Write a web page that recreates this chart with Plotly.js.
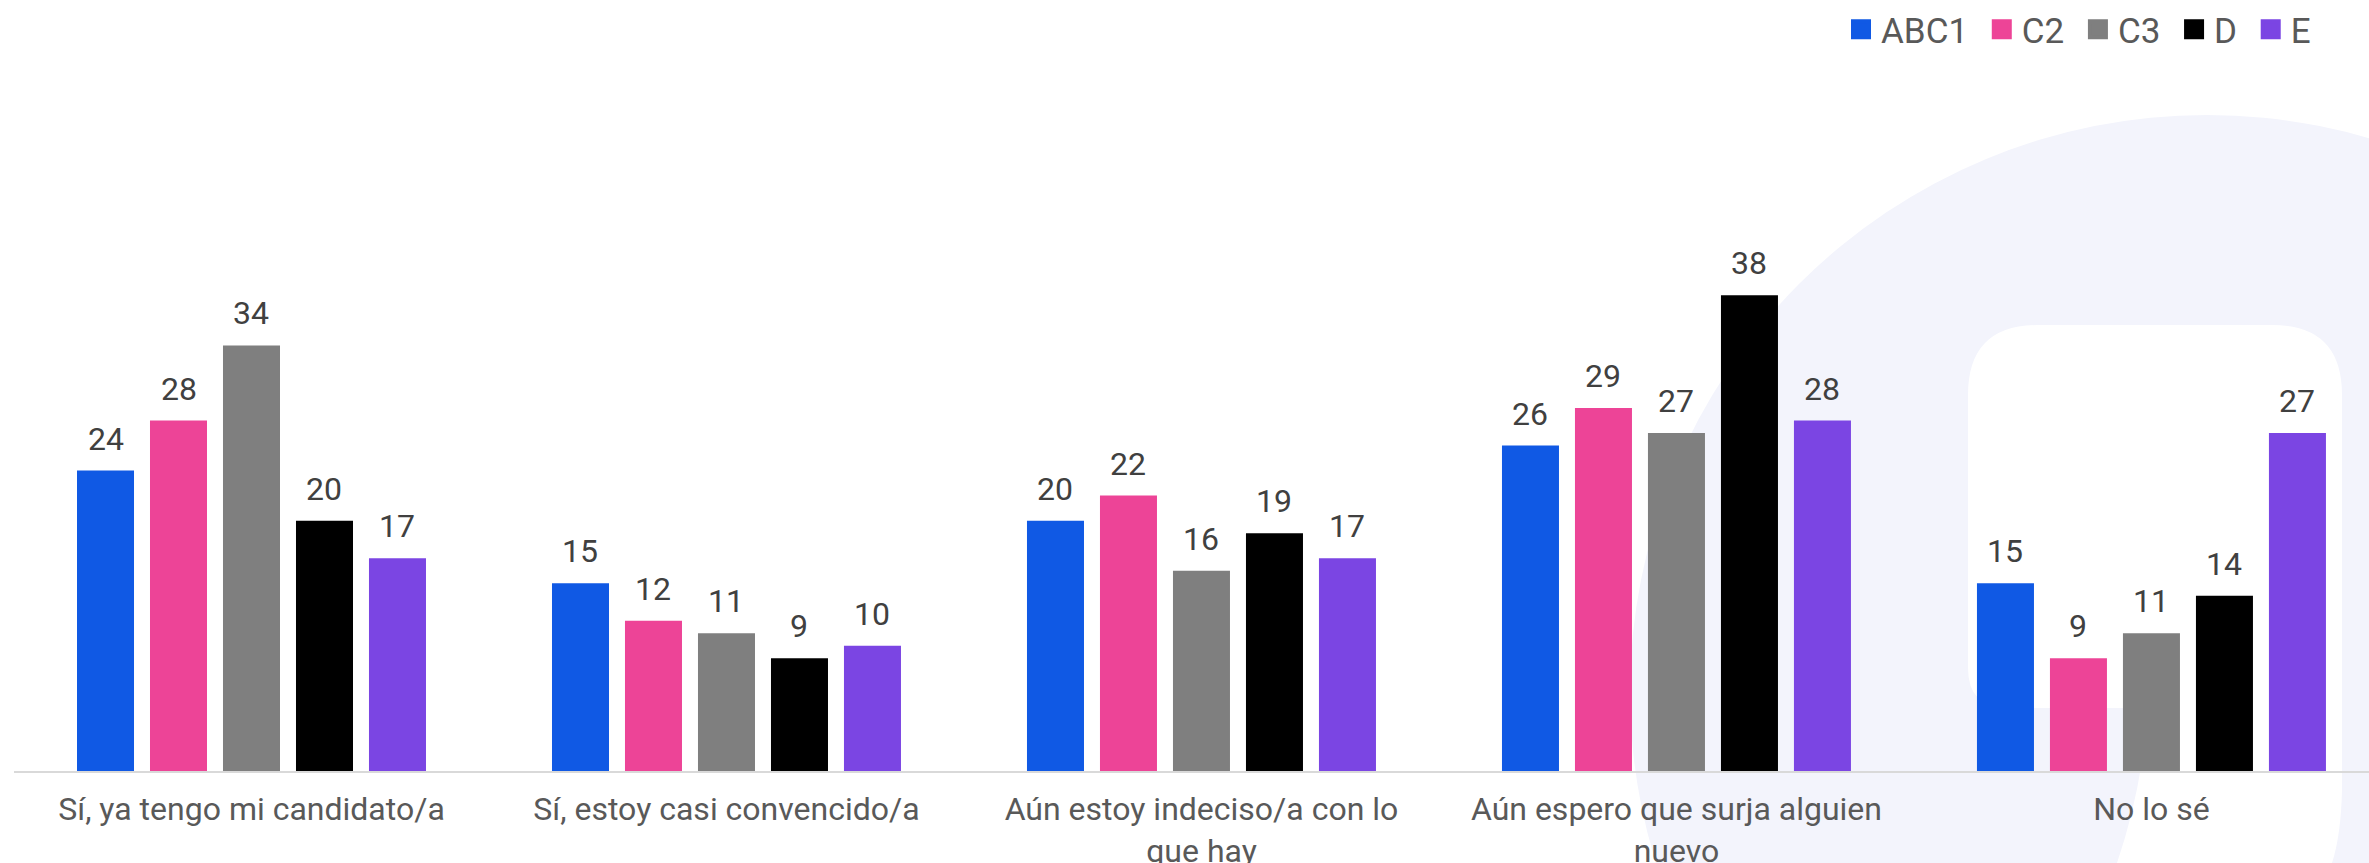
<!DOCTYPE html>
<html>
<head>
<meta charset="utf-8">
<script src="https://cdn.plot.ly/plotly-3.0.1.min.js"></script>
<style>html,body{margin:0;padding:0;background:#fff;}#chart{width:2369px;height:863px;}</style>
</head>
<body>
<div id="chart"></div>
<script>
// ---- data ----
const categories = [
  "Sí, ya tengo mi candidato/a",
  "Sí, estoy casi convencido/a",
  "Aún estoy indeciso/a con lo<br>que hay",
  "Aún espero que surja alguien<br>nuevo",
  "No lo sé"
];
const seriesNames = ["ABC1", "C2", "C3", "D", "E"];
const abc1 = [24, 15, 20, 26, 15];
const c2   = [28, 12, 22, 29, 9];
const c3   = [34, 11, 16, 27, 11];
const d    = [20, 9, 19, 38, 14];
const e    = [17, 10, 17, 28, 27];
const seriesValues = [abc1, c2, c3, d, e];
const seriesColors = ["#1059E4", "#ED4497", "#7F7F7F", "#000000", "#7B45E3"];

// ---- layout constants ----
const W = 2369, H = 863;
const M = {l: 14, r: 0, t: 70, b: 92};
const bargap = 0.2316, bargroupgap = 0.219;
const nSeries = seriesNames.length;
const slot = (1 - bargap) / nSeries;

const FONT = "Roboto, 'Noto Sans', sans-serif";

const traces = [];
seriesValues.forEach((vals, i) => {
  traces.push({
    type: "bar", name: seriesNames[i], x: categories, y: vals,
    marker: {color: seriesColors[i]}, showlegend: false, legendgroup: seriesNames[i],
    hoverinfo: "x+y+name"
  });
});
// legend entries (bigger squares than bar legend glyphs)
seriesNames.forEach((n, i) => {
  traces.push({
    type: "scatter", mode: "markers", name: n + "\u00A0", x: [null], y: [null],
    legendgroup: n, showlegend: true,
    marker: {symbol: "square", size: 16, color: seriesColors[i], line: {color: seriesColors[i], width: 4}}
  });
});

// value labels above bars
const annotations = [];
seriesValues.forEach((vals, i) => {
  vals.forEach((v, j) => {
    annotations.push({
      x: j + (i - (nSeries - 1) / 2) * slot, y: v, xref: "x", yref: "y",
      text: String(v), showarrow: false, yshift: 32,
      font: {family: FONT, size: 32, color: "#404040"}
    });
  });
});

// background decoration (pixel -> paper helpers)
const pw = W - M.l - M.r, ph = H - M.t - M.b;
const px = v => (v - M.l) / pw;
const py = v => (H - M.b - v) / ph;
const P = (x, y) => px(x).toFixed(5) + "," + py(y).toFixed(5);
const r = 70, r2 = 40;
const whitePath =
  "M" + P(1968 + r, 325) + " L" + P(2342 - r, 325) + " Q" + P(2342, 325) + " " + P(2342, 325 + r) +
  " L" + P(2342, 790) + " Q" + P(2341, 835) + " " + P(2332, 863) +
  " L" + P(2117, 863) + " Q" + P(2142, 790) + " " + P(2148, 708) +
  " L" + P(1968 + r2, 708) + " Q" + P(1968, 708) + " " + P(1968, 708 - r2) +
  " L" + P(1968, 325 + r) + " Q" + P(1968, 325) + " " + P(1968 + r, 325) + " Z";

const shapes = [
  {type: "circle", xref: "paper", yref: "paper", layer: "below",
   x0: px(1630), x1: px(2784), y0: py(115), y1: py(1269),
   fillcolor: "#F3F4FC", line: {width: 0}},
  {type: "path", xref: "paper", yref: "paper", layer: "below",
   path: whitePath, fillcolor: "#FFFFFF", line: {width: 0}}
];

const layout = {
  width: W, height: H,
  margin: M,
  paper_bgcolor: "#FFFFFF", plot_bgcolor: "rgba(0,0,0,0)",
  barmode: "group", bargap: bargap, bargroupgap: bargroupgap,
  font: {family: FONT, color: "#595959"},
  xaxis: {
    type: "category", range: [-0.5, 4.458],
    showline: true, linecolor: "#D9D9D9", linewidth: 2,
    showgrid: false, zeroline: false, ticks: "", ticklabelstandoff: 9,
    tickfont: {family: FONT, size: 32, color: "#595959"}, fixedrange: true
  },
  yaxis: {range: [0, 56], visible: false, showgrid: false, zeroline: false, fixedrange: true},
  legend: {
    orientation: "h", xref: "container", yref: "container",
    x: 2325 / W, xanchor: "right", y: 1, yanchor: "top",
    font: {family: FONT, size: 35, color: "#595959"}, bgcolor: "rgba(0,0,0,0)"
  },
  shapes: shapes,
  annotations: annotations,
  showlegend: true
};

Plotly.newPlot("chart", traces, layout, {displayModeBar: false, staticPlot: true});
</script>
</body>
</html>
